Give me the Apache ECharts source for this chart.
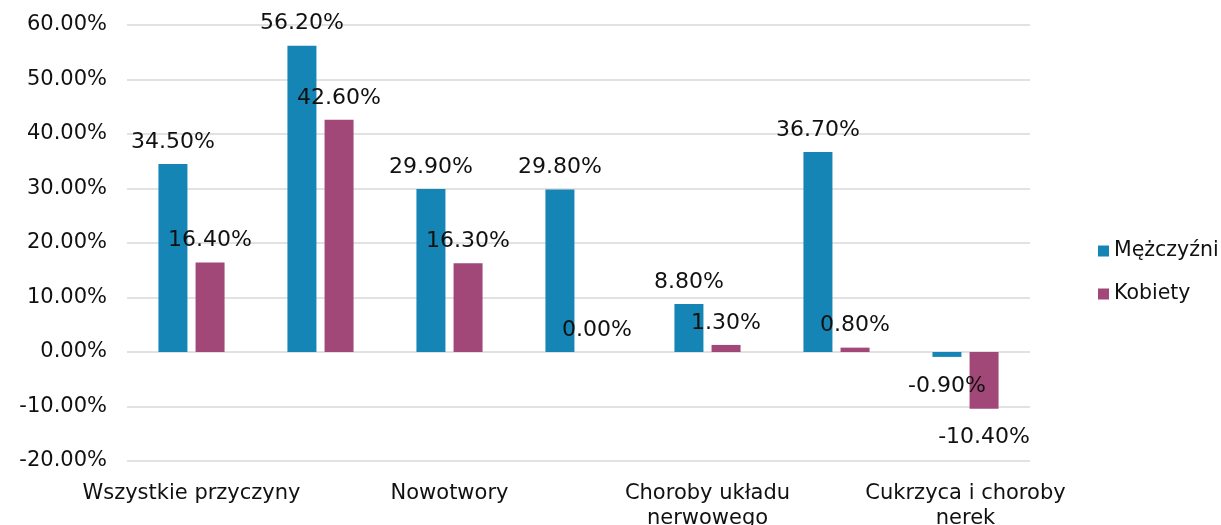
<!DOCTYPE html>
<html>
<head>
<meta charset="utf-8">
<script src="https://cdn.jsdelivr.net/npm/echarts@6/dist/echarts.min.js"></script>
<style>
  html, body { margin: 0; padding: 0; background: #fff; }
  #chart { width: 1221px; height: 525px; }
</style>
</head>
<body>
<div id="chart"></div>
<script>
// categories (only every other one is labelled in the source picture)
const categories = [
  "Wszystkie przyczyny",
  "Choroby układu krążenia",
  "Nowotwory",
  "Choroby układu oddechowego",
  "Choroby układu\nnerwowego",
  "Choroby układu trawiennego",
  "Cukrzyca i choroby\nnerek",
];
const men = [34.5, 56.2, 29.9, 29.8, 8.8, 36.7, -0.9];
const women = [16.4, 42.6, 16.3, 0.0, 1.3, 0.8, -10.4];
const seriesNames = ["Mężczyźni", "Kobiety"];
const colors = ["#1585b6", "#a14878"];

const font = "DejaVu Sans";
const chart = echarts.init(document.getElementById("chart"));

// negative bars get their label under the bar end
const labelFor = (v) =>
  v < 0 ? { position: "bottom", distance: 18 } : { position: "top", distance: 11 };

const makeSeries = (name, values, color) => ({
  name,
  type: "bar",
  barWidth: 29,
  barGap: "28%",
  itemStyle: { color },
  label: {
    show: true,
    fontFamily: font,
    fontSize: 22,
    color: "#111",
    formatter: (p) => p.value.toFixed(2) + "%",
  },
  data: values.map((v) => ({ value: v, label: labelFor(v) })),
});

chart.setOption({
  animation: false,
  color: colors,
  textStyle: { fontFamily: font },
  grid: { left: 127, right: 191, top: 25, bottom: 64, outerBoundsMode: "none" },
  legend: {
    orient: "vertical",
    left: 1098,
    top: 240,
    padding: 0,
    icon: "rect",
    itemWidth: 11,
    itemHeight: 11,
    itemGap: 21,
    textStyle: { fontFamily: font, fontSize: 20.5, color: "#111", lineHeight: 22 },
    data: seriesNames,
  },
  xAxis: {
    type: "category",
    data: categories,
    axisLine: { show: false },
    axisTick: { show: false },
    axisLabel: {
      interval: 1,
      margin: 20,
      fontFamily: font,
      fontSize: 21,
      lineHeight: 25,
      color: "#111",
    },
  },
  yAxis: {
    type: "value",
    min: -20,
    max: 60,
    interval: 10,
    axisLine: { show: false },
    axisTick: { show: false },
    axisLabel: {
      margin: 20,
      fontFamily: font,
      fontSize: 21,
      color: "#111",
      formatter: (v) => v.toFixed(2) + "%",
    },
    splitLine: { lineStyle: { color: "#d9d9d9", width: 1.5 } },
  },
  series: [
    makeSeries(seriesNames[0], men, colors[0]),
    makeSeries(seriesNames[1], women, colors[1]),
  ],
});
</script>
</body>
</html>
